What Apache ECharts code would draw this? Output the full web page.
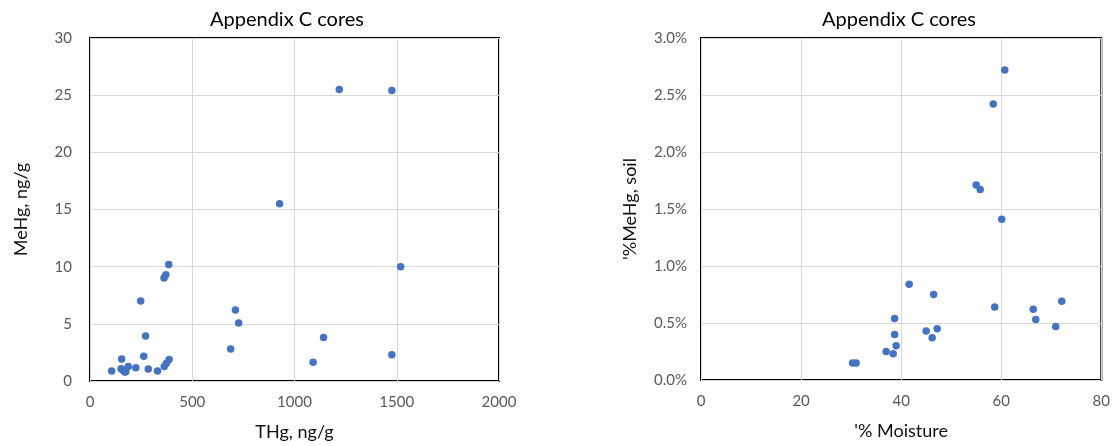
<!DOCTYPE html>
<html style="height: 100%">
   <head>
       <meta charset="utf-8">
   </head>
   <body style="height: 100%; margin: 0; background: #fff">
       <div id="container" style="width: 1113px; height: 446px"></div>
       <script type="text/javascript" src="https://cdn.jsdelivr.net/npm/echarts@6/dist/echarts.min.js"></script>
       <script type="text/javascript">
// left chart: THg vs MeHg (ng/g)
var thg = [1219, 1476, 927, 1519, 385, 371, 362, 248, 711, 727, 272, 1142, 688, 1476, 263, 1091,
           155, 387, 374, 363, 187, 224, 285, 330, 106, 161, 152, 170, 175];
var mehg = [25.5, 25.4, 15.5, 10.0, 10.2, 9.3, 9.0, 7.0, 6.2, 5.08, 3.93, 3.8, 2.8, 2.3, 2.17, 1.65,
            1.93, 1.88, 1.56, 1.27, 1.27, 1.15, 1.04, 0.87, 0.87, 0.95, 1.07, 0.78, 0.8];

// right chart: % moisture vs % MeHg
var moisture = [60.7, 58.4, 55.0, 55.8, 60.1, 41.6, 46.5, 58.7, 72.1, 66.4, 66.9, 70.9, 38.7, 38.7,
                45.0, 47.2, 46.2, 39.0, 37.0, 38.4, 30.3, 31.0];
var pctMehg = [2.72, 2.42, 1.71, 1.67, 1.41, 0.84, 0.75, 0.64, 0.69, 0.62, 0.53, 0.47, 0.54, 0.40,
               0.43, 0.45, 0.37, 0.30, 0.25, 0.23, 0.15, 0.15];

var titleText = 'Appendix C cores';

function pairs(xs, ys) {
    var out = [];
    for (var i = 0; i < xs.length; i++) out.push([xs[i], ys[i]]);
    return out;
}

var font = 'Lato, "Open Sans", sans-serif';
var tickStyle = {color: '#595959', fontSize: 15, fontFamily: font};
var nameStyle = {color: '#111', fontSize: 18, fontFamily: font};
var gridLine = {show: true, lineStyle: {color: '#d9d9d9', width: 1}};
var plain = function (v) { return String(v); };

var chart = echarts.init(document.getElementById('container'));
chart.setOption({
    animation: false,
    title: [
        {text: titleText, left: 282, top: 5, textAlign: 'center',
         textStyle: {fontSize: 20, fontWeight: 'normal', color: '#000', fontFamily: font}},
        {text: titleText, left: 894, top: 5, textAlign: 'center',
         textStyle: {fontSize: 20, fontWeight: 'normal', color: '#000', fontFamily: font}}
    ],
    grid: [
        {left: 90, right: 614, top: 38, bottom: 62, show: true, borderColor: '#000', borderWidth: 2},
        {left: 701, right: 8, top: 38, bottom: 66, show: true, borderColor: '#000', borderWidth: 2}
    ],
    xAxis: [
        {gridIndex: 0, type: 'value', min: 0, max: 2000, interval: 500,
         name: 'THg, ng/g', nameLocation: 'middle', nameGap: 42, nameTextStyle: nameStyle,
         axisLine: {show: false}, axisTick: {show: false},
         axisLabel: Object.assign({margin: 14, formatter: plain}, tickStyle), splitLine: gridLine},
        {gridIndex: 1, type: 'value', min: 0, max: 80, interval: 20,
         name: "'% Moisture", nameLocation: 'middle', nameGap: 42, nameTextStyle: nameStyle,
         axisLine: {show: false}, axisTick: {show: false},
         axisLabel: Object.assign({margin: 14, formatter: plain}, tickStyle), splitLine: gridLine}
    ],
    yAxis: [
        {gridIndex: 0, type: 'value', min: 0, max: 30, interval: 5,
         name: 'MeHg, ng/g', nameLocation: 'middle', nameGap: 60, nameTextStyle: nameStyle,
         axisLine: {show: false}, axisTick: {show: false},
         axisLabel: Object.assign({margin: 18, formatter: plain}, tickStyle), splitLine: gridLine},
        {gridIndex: 1, type: 'value', min: 0, max: 3, interval: 0.5,
         name: "'%MeHg, soil", nameLocation: 'middle', nameGap: 62, nameTextStyle: nameStyle,
         axisLine: {show: false}, axisTick: {show: false},
         axisLabel: Object.assign({margin: 14, formatter: function (v) { return v.toFixed(1) + '%'; }}, tickStyle),
         splitLine: gridLine}
    ],
    series: [
        {type: 'scatter', xAxisIndex: 0, yAxisIndex: 0, data: pairs(thg, mehg),
         symbolSize: 7.5, itemStyle: {color: '#4472c4', opacity: 1}},
        {type: 'scatter', xAxisIndex: 1, yAxisIndex: 1, data: pairs(moisture, pctMehg),
         symbolSize: 7.5, itemStyle: {color: '#4472c4', opacity: 1}}
    ]
});
       </script>
   </body>
</html>
